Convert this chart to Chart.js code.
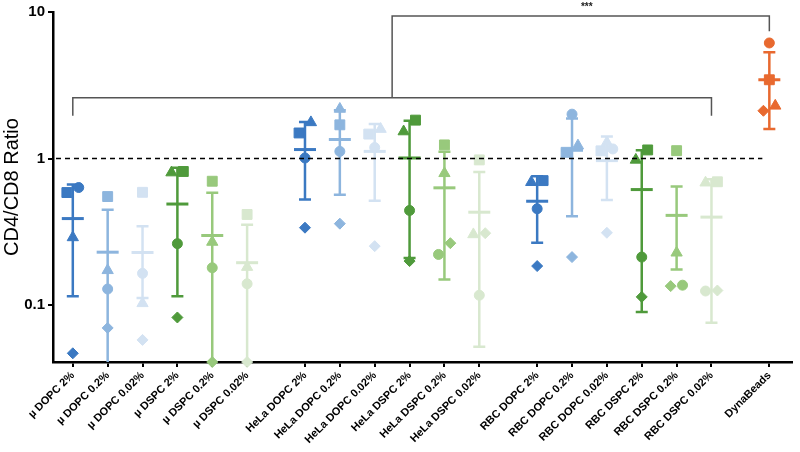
<!DOCTYPE html>
<html>
<head>
<meta charset="utf-8">
<script src="https://cdn.jsdelivr.net/npm/chart.js@4"></script>
<style>
  html, body { margin: 0; padding: 0; background: #fff; }
  #wrap { width: 800px; height: 452px; }
</style>
</head>
<body>
<div id="wrap"><canvas id="ratioChart"></canvas></div>
<script>
const categories = [
  "µ DOPC 2%", "µ DOPC 0.2%", "µ DOPC 0.02%", "µ DSPC 2%", "µ DSPC 0.2%", "µ DSPC 0.02%",
  "HeLa DOPC 2%", "HeLa DOPC 0.2%", "HeLa DOPC 0.02%", "HeLa DSPC 2%", "HeLa DSPC 0.2%", "HeLa DSPC 0.02%",
  "RBC DOPC 2%", "RBC DOPC 0.2%", "RBC DOPC 0.02%", "RBC DSPC 2%", "RBC DSPC 0.2%", "RBC DSPC 0.02%",
  "DynaBeads",
];
// one value per donor (circle, square, triangle, diamond)
const circleVals = [0.635, 0.129, 0.165, 0.263, 0.18, 0.14, 1.01, 1.12, 1.19, 0.443, 0.222, 0.117, 0.455, 2.01, 1.164, 0.213, 0.137, 0.125, 6.15];
const squareVals = [0.587, 0.551, 0.589, 0.817, 0.701, 0.416, 1.496, 1.7, 1.47, 1.83, 1.24, 0.98, 0.708, 1.104, 1.13, 1.146, 1.133, 0.695, 3.45];
const triangleVals = [0.29, 0.173, 0.103, 0.803, 0.27, 0.182, 1.766, 2.18, 1.59, 1.53, 0.794, 0.304, 0.69, 1.226, 1.29, 0.98, 0.228, 0.685, 2.29];
const diamondVals = [0.047, 0.07, 0.058, 0.0825, 0.041, 0.041, 0.338, 0.36, 0.253, 0.2, 0.265, 0.31, 0.185, 0.213, 0.312, 0.114, 0.135, 0.126, 2.12];
const meanVals = [0.39, 0.23, 0.229, 0.49, 0.299, 0.195, 1.153, 1.35, 1.12, 1.01, 0.632, 0.431, 0.512, 1.14, 0.969, 0.615, 0.41, 0.399, 3.45];
const sdVals = [0.275, 0.218, 0.117, 0.375, 0.285, 0.159, 0.627, 0.784, 0.605, 0.8, 0.482, 0.379, 0.245, 0.736, 0.447, 0.525, 0.235, 0.323, 1.86];
const yTicks = [0.1, 1, 10];

const blue = ["#3b79c2", "#8db5de", "#d3e2f2"];
const green = ["#4f9a3b", "#98c97c", "#d8e8cf"];
const colours = categories.map((c, i) => {
  if (c === "DynaBeads") return "#e8692f";
  const shade = i % 3;
  return c.includes("DOPC") ? blue[shade] : green[shade];
});

const groupOf = (c) => c.startsWith("HeLa") ? 1 : c.startsWith("RBC") ? 2 : c === "DynaBeads" ? 3 : 0;
const xPos = categories.map((c, i) => i + 0.66 * groupOf(c));

const series = [
  { label: "circle", vals: circleVals, style: "circle", r: 5 },
  { label: "square", vals: squareVals, style: "rect", r: 7 },
  { label: "triangle", vals: triangleVals, style: "triangle", r: 6.5 },
  { label: "diamond", vals: diamondVals, style: "rectRot", r: 5.5 },
];

// nudge overlapping points left/right like the original scatter
const nudge = categories.map((c, i) => {
  const off = [0, 0, 0, 0];
  const order = series.map((s, k) => ({ k, v: s.vals[i] })).sort((a, b) => a.v - b.v);
  for (let j = 0; j < order.length - 1; j++) {
    const a = order[j], b = order[j + 1];
    if (off[a.k] !== 0 || off[b.k] !== 0) continue;
    if (Math.log10(b.v / a.v) < 0.08) {
      off[a.k] = -0.17;
      off[b.k] = 0.17;
    }
  }
  return off;
});

const datasets = series.map((s, k) => ({
  label: s.label,
  data: s.vals.map((v, i) => ({ x: xPos[i] + nudge[i][k], y: v })),
  pointStyle: s.style,
  pointRadius: s.r,
  pointBackgroundColor: colours,
  pointBorderColor: colours,
  pointBorderWidth: 1,
  clip: false,
}));

const overlay = {
  id: "overlay",
  beforeDatasetsDraw(chart) {
    const { ctx, chartArea, scales: { x, y } } = chart;
    ctx.save();
    categories.forEach((c, i) => {
      const px = x.getPixelForValue(xPos[i]);
      const lo = meanVals[i] - sdVals[i];
      const hi = meanVals[i] + sdVals[i];
      const yHi = y.getPixelForValue(hi);
      const yLo = lo > y.min ? y.getPixelForValue(lo) : chartArea.bottom;
      const yMean = y.getPixelForValue(meanVals[i]);
      ctx.strokeStyle = colours[i];
      ctx.lineWidth = 2.5;
      ctx.beginPath();
      ctx.moveTo(px, yHi);
      ctx.lineTo(px, yLo);
      ctx.moveTo(px - 6, yHi);
      ctx.lineTo(px + 6, yHi);
      if (lo > y.min) {
        ctx.moveTo(px - 6, yLo);
        ctx.lineTo(px + 6, yLo);
      }
      ctx.stroke();
      ctx.lineWidth = 3;
      ctx.beginPath();
      ctx.moveTo(px - 11, yMean);
      ctx.lineTo(px + 11, yMean);
      ctx.stroke();
    });
    ctx.restore();
  },
  afterDatasetsDraw(chart) {
    const { ctx, chartArea, scales: { x, y } } = chart;
    ctx.save();
    // reference line at ratio 1
    const y1 = y.getPixelForValue(1);
    ctx.strokeStyle = "#000";
    ctx.lineWidth = 1.5;
    ctx.setLineDash([5, 4]);
    ctx.beginPath();
    ctx.moveTo(chartArea.left + 3, y1);
    ctx.lineTo(x.getPixelForValue(xPos[18]) - 7, y1);
    ctx.stroke();
    ctx.setLineDash([]);

    // significance brackets
    const xa = x.getPixelForValue(xPos[0]);
    const xb = x.getPixelForValue(xPos[17]);
    const xm = (xa + xb) / 2;
    const xd = x.getPixelForValue(xPos[18]);
    const yLow = y.getPixelForValue(2.6), yLowEnd = y.getPixelForValue(1.96);
    const yTop = y.getPixelForValue(9.4), yTopEnd = y.getPixelForValue(7.4);
    ctx.strokeStyle = "#555";
    ctx.lineWidth = 1.5;
    ctx.beginPath();
    ctx.moveTo(xa, yLowEnd);
    ctx.lineTo(xa, yLow);
    ctx.lineTo(xb, yLow);
    ctx.lineTo(xb, yLowEnd);
    ctx.moveTo(xm, yLow);
    ctx.lineTo(xm, yTop);
    ctx.lineTo(xd, yTop);
    ctx.lineTo(xd, yTopEnd);
    ctx.stroke();
    ctx.fillStyle = "#222";
    ctx.font = "bold 10px Arial";
    ctx.textAlign = "center";
    ctx.textBaseline = "middle";
    ctx.fillText("***", (xm + xd) / 2 + 6, yTop - 9);
    ctx.restore();
  },
};

const ctx = document.getElementById("ratioChart");
new Chart(ctx, {
  type: "scatter",
  data: { datasets },
  plugins: [overlay],
  options: {
    responsive: true,
    maintainAspectRatio: false,
    animation: false,
    events: [],
    layout: { padding: { top: 11, right: 0, left: 0, bottom: 0 } },
    plugins: { legend: { display: false }, tooltip: { enabled: false } },
    scales: {
      x: {
        type: "linear",
        min: -0.568,
        max: 20.63,
        afterBuildTicks: (scale) => {
          scale.ticks = xPos.map((v) => ({ value: v }));
        },
        afterFit: (scale) => { scale.height = 90; },
        ticks: {
          autoSkip: false,
          minRotation: 45,
          maxRotation: 45,
          padding: 2,
          color: "#000",
          font: { family: "Arial", size: 11, weight: "bold" },
          callback: (value, index) => categories[index],
        },
        grid: { drawOnChartArea: false, tickLength: 5, color: "#000", lineWidth: 2 },
        border: { display: true, color: "#000", width: 2.5 },
      },
      y: {
        type: "logarithmic",
        min: 0.041,
        max: 10,
        afterBuildTicks: (scale) => {
          scale.ticks = yTicks.map((v) => ({ value: v }));
        },
        afterFit: (scale) => { scale.width = 53; },
        title: {
          display: true,
          text: "CD4/CD8 Ratio",
          color: "#000",
          font: { family: "Arial", size: 20 },
          padding: { top: 0, bottom: 1 },
        },
        ticks: {
          color: "#000",
          padding: 3,
          font: { family: "Arial", size: 15, weight: "bold" },
          callback: (v) => String(v),
        },
        grid: { drawOnChartArea: false, tickLength: 5, color: "#000", lineWidth: 2 },
        border: { display: true, color: "#000", width: 2.5 },
      },
    },
  },
});
</script>
</body>
</html>
